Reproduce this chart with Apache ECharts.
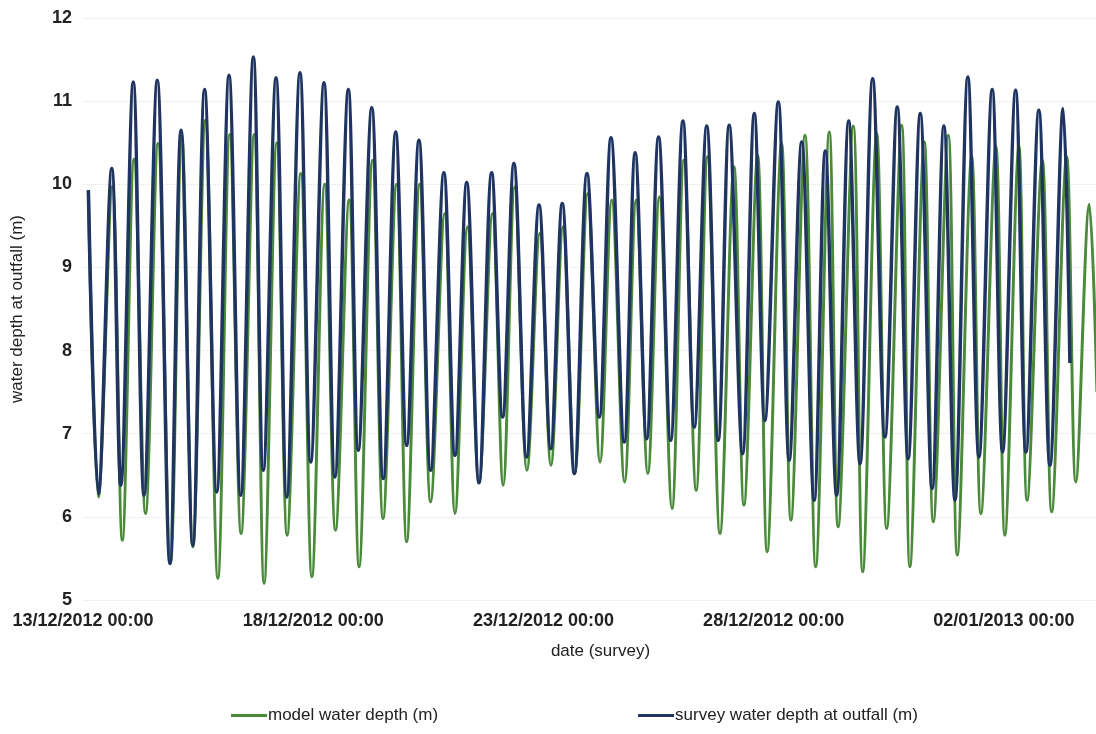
<!DOCTYPE html>
<html>
<head>
<meta charset="utf-8">
<title>water depth at outfall</title>
<script src="https://cdn.jsdelivr.net/npm/echarts@6/dist/echarts.min.js"></script>
<style>
  html, body { margin: 0; padding: 0; background: #fff; }
  #chart { width: 1096px; height: 734px; }
</style>
</head>
<body>
<div id="chart"></div>
<script>
// hours since 13/12/2012 00:00 at each high / low water
var surveyHours = [2.8, 8.0, 15.0, 19.7, 26.2, 31.8, 38.7, 45.3, 51.1, 57.2,
  63.4, 69.7, 76.1, 82.2, 88.8, 94.0, 100.6, 106.2, 113.1, 118.7,
  125.6, 131.3, 138.3, 143.5, 150.5, 156.5, 163.0, 168.7, 175.1, 181.2,
  188.1, 193.9, 200.0, 206.4, 213.0, 218.7, 224.6, 231.2, 237.7, 243.8,
  249.8, 256.1, 262.7, 269.1, 275.2, 282.1, 287.8, 293.8, 300.0, 306.3,
  312.7, 318.6, 325.1, 331.1, 336.8, 343.8, 349.9, 355.4, 362.4, 368.1,
  374.6, 381.1, 386.9, 392.8, 399.1, 405.0, 411.6, 418.0, 424.4, 430.1,
  436.4, 442.6, 448.7, 454.5, 461.2, 467.0, 473.9, 479.3, 486.1, 491.5,
  498.2, 504.0, 510.9, 514.4];
var surveyDepth = [9.93, 6.28, 10.19, 6.38, 11.23, 6.26, 11.25, 5.44, 10.65, 5.66,
  11.14, 6.30, 11.31, 6.26, 11.53, 6.56, 11.28, 6.24, 11.34, 6.66,
  11.22, 6.48, 11.14, 6.80, 10.92, 6.46, 10.63, 6.86, 10.53, 6.56,
  10.14, 6.74, 10.02, 6.41, 10.14, 7.20, 10.25, 6.72, 9.75, 6.82,
  9.77, 6.52, 10.13, 7.20, 10.56, 6.90, 10.38, 6.94, 10.57, 6.92,
  10.76, 7.08, 10.70, 6.92, 10.71, 6.76, 10.85, 7.16, 10.99, 6.68,
  10.51, 6.20, 10.40, 6.26, 10.76, 6.64, 11.27, 6.96, 10.93, 6.70,
  10.85, 6.34, 10.70, 6.20, 11.29, 6.72, 11.14, 6.78, 11.13, 6.78,
  10.89, 6.62, 10.91, 7.85];

var modelHours = [2.8, 8.0, 15.3, 20.5, 26.6, 32.6, 39.1, 45.6, 51.5, 57.3,
  63.8, 70.3, 76.5, 82.4, 89.2, 94.4, 101.0, 106.4, 113.5, 119.3,
  126.0, 131.6, 138.7, 143.9, 150.9, 156.4, 163.4, 168.7, 175.5, 181.2,
  188.5, 193.9, 200.4, 206.4, 213.4, 219.0, 225.0, 231.4, 238.1, 243.9,
  250.2, 256.3, 263.1, 269.5, 275.6, 282.3, 288.3, 294.4, 300.4, 307.0,
  313.2, 319.6, 325.5, 332.0, 339.3, 344.5, 351.6, 356.6, 364.1, 369.0,
  376.3, 381.9, 389.0, 393.6, 401.5, 406.4, 413.7, 418.9, 426.7, 431.0,
  438.5, 443.2, 451.0, 455.7, 463.2, 468.0, 475.8, 480.5, 487.8, 492.1,
  500.0, 504.9, 512.7, 517.5, 524.5, 528.5];
var modelDepth = [9.93, 6.24, 9.97, 5.72, 10.30, 6.04, 10.49, 5.44, 10.59, 5.64,
  10.77, 5.26, 10.60, 5.80, 10.60, 5.20, 10.50, 5.78, 10.13, 5.28,
  10.00, 5.84, 9.81, 5.40, 10.29, 5.98, 10.00, 5.70, 10.00, 6.18,
  9.65, 6.04, 9.49, 6.41, 9.65, 6.38, 9.97, 6.56, 9.41, 6.62,
  9.49, 6.52, 9.89, 6.66, 9.81, 6.42, 9.81, 6.52, 9.85, 6.10,
  10.29, 6.32, 10.33, 5.80, 10.21, 6.14, 10.35, 5.58, 10.49, 5.96,
  10.59, 5.40, 10.63, 5.88, 10.70, 5.34, 10.61, 5.86, 10.71, 5.40,
  10.51, 5.94, 10.59, 5.54, 10.33, 6.04, 10.45, 5.78, 10.45, 6.20,
  10.29, 6.06, 10.33, 6.42, 9.76, 7.50];

var yTicks = [5, 6, 7, 8, 9, 10, 11, 12];
var dateLabels = ['13/12/2012 00:00', '18/12/2012 00:00', '23/12/2012 00:00',
  '28/12/2012 00:00', '02/01/2013 00:00'];

var seriesNames = ['model water depth (m)', 'survey water depth at outfall (m)'];

function pairs(xs, ys) {
  var out = [];
  for (var i = 0; i < xs.length; i++) out.push([xs[i], ys[i]]);
  return out;
}

var dom = document.getElementById('chart');
var chart = echarts.init(dom, null, { renderer: 'canvas' });

var font = '"Liberation Sans", Arial, sans-serif';

var option = {
  animation: false,
  backgroundColor: '#ffffff',
  grid: { left: 83, right: 0, top: 18, bottom: 134, containLabel: false },
  xAxis: {
    type: 'value',
    min: 0,
    max: 528,
    interval: 120,
    name: 'date (survey)',
    nameLocation: 'middle',
    nameGap: 43,
    nameTextStyle: { fontFamily: font, fontSize: 17, color: '#222', padding: [0, 0, 0, 22] },
    axisLine: { show: false },
    axisTick: { show: false },
    splitLine: { show: false },
    axisLabel: {
      fontFamily: font,
      fontSize: 18,
      fontWeight: 'bold',
      color: '#222',
      margin: 12,
      showMaxLabel: false,
      formatter: function (v) {
        if (v % 120 !== 0) return '';
        return dateLabels[v / 120] || '';
      }
    }
  },
  yAxis: {
    type: 'value',
    min: yTicks[0],
    max: yTicks[yTicks.length - 1],
    interval: 1,
    name: 'water depth at outfall (m)',
    nameLocation: 'middle',
    nameGap: 57,
    nameRotate: 90,
    nameTextStyle: { fontFamily: font, fontSize: 17, color: '#222' },
    axisLine: { show: false },
    axisTick: { show: false },
    splitLine: { show: true, lineStyle: { color: '#e4e4e4', type: 'dotted', width: 1 } },
    axisLabel: { fontFamily: font, fontSize: 18, fontWeight: 'bold', color: '#222', margin: 11 }
  },
  legend: {
    bottom: 5,
    left: 226,
    itemGap: 200,
    itemWidth: 36,
    itemHeight: 3,
    icon: 'rect',
    textStyle: { fontFamily: font, fontSize: 17, color: '#222', padding: [0, 0, 0, -4] },
    data: seriesNames
  },
  series: [
    {
      name: seriesNames[0],
      type: 'line',
      data: pairs(modelHours, modelDepth),
      symbol: 'none',
      smooth: 0.35,
      clip: true,
      color: '#4a8a3a',
      lineStyle: { width: 3, color: '#4a8a3a' },
      z: 2
    },
    {
      name: seriesNames[1],
      type: 'line',
      data: pairs(surveyHours, surveyDepth),
      symbol: 'none',
      smooth: 0.35,
      clip: true,
      color: '#1f3461',
      lineStyle: { width: 3.5, color: '#1f3461' },
      z: 3
    }
  ]
};

chart.setOption(option);
window.addEventListener('resize', chart.resize);
</script>
</body>
</html>
